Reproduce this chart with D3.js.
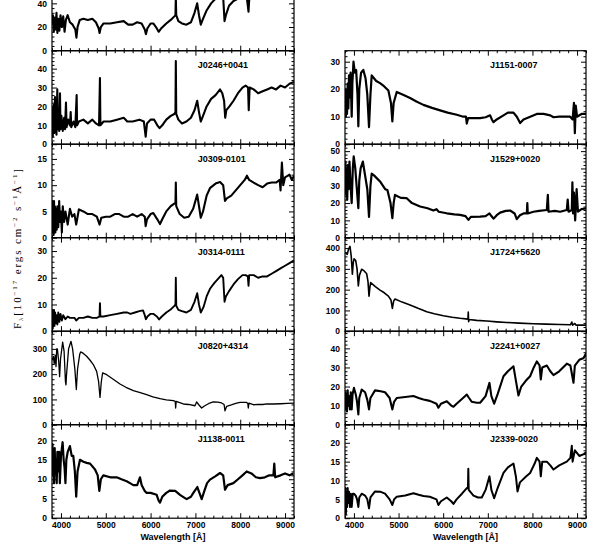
<!DOCTYPE html>
<html>
<head>
<meta charset="utf-8">
<script src="https://cdn.jsdelivr.net/npm/d3@7"></script>
<style>
  body { margin: 0; background: #fff; }
  svg { display: block; }
  .tick text { font-family: "Liberation Sans", Arial, sans-serif; font-size: 8.5px; font-weight: bold; fill: #000; }
  .tick line { stroke: #000; stroke-width: 1; }
</style>
</head>
<body>
<script>
// wavelength ticks (Angstrom)
const xMajor = [4000, 5000, 6000, 7000, 8000, 9000];
const xDomain = [3800, 9200];

// top panel of the left column (cut off by the frame)
const specTop = [[3800,22],[3820,30],[3840,16],[3860,28],[3880,18],[3900,32],[3920,15],[3945,27],[3965,17],[3990,30],[4020,20],[4050,29],[4080,16],[4110,26],[4150,30],[4200,24],[4260,22],[4320,18],[4345,11],[4370,20],[4420,26],[4500,27],[4600,26],[4700,27],[4780,24],[4840,19],[4862,15],[4890,20],[4950,23],[5100,23],[5250,24],[5400,25],[5500,22],[5600,22],[5700,24],[5800,23],[5870,18],[5895,14],[5930,19],[6000,23],[6060,23],[6120,20],[6180,16],[6240,19],[6350,23],[6450,26],[6530,29],[6555,30],[6563,45],[6572,30],[6620,25],[6700,23],[6800,22],[6900,24],[6980,32],[7040,40],[7080,30],[7120,22],[7160,26],[7250,34],[7350,40],[7450,44],[7550,48],[7620,45],[7650,25],[7680,30],[7750,38],[7850,42],[7950,44],[8050,46],[8150,44],[8185,33],[8200,43],[8300,46],[8450,45],[8550,44],[8700,48],[8900,50],[9200,52]];

const j0246 = [[3800,10],[3810,18],[3818,4],[3826,20],[3835,8],[3845,21],[3852,6],[3867,25],[3875,9],[3890,20],[3900,5],[3918,29],[3930,8],[3945,16],[3960,7],[3978,27],[3990,8],[4010,15],[4040,7],[4070,14],[4090,8],[4112,22],[4125,9],[4160,13],[4200,10],[4217,17],[4230,9],[4280,12],[4320,9],[4350,26],[4360,10],[4400,12],[4500,13],[4600,11],[4700,13],[4780,11],[4850,10],[4870,35],[4880,10],[4950,12],[5100,12],[5250,13],[5400,14],[5480,12],[5600,12],[5750,13],[5850,12],[5890,4],[5920,11],[6000,13],[6080,13],[6150,10],[6200,8.5],[6260,10],[6350,13],[6450,15],[6530,16],[6555,17],[6563,44],[6572,16],[6620,13],[6700,11],[6800,12],[6900,14],[6980,18],[7040,23],[7080,17],[7120,12],[7170,15],[7250,20],[7350,24],[7450,26],[7550,29],[7600,27],[7640,23],[7665,14],[7690,18],[7760,20],[7850,23],[7950,27],[8050,30],[8120,31],[8175,30],[8190,18],[8210,30],[8300,29],[8400,27],[8500,28],[8600,29],[8700,30],[8800,29],[8900,31],[9000,30],[9100,32],[9200,33]];

const j0309 = [[3800,4],[3810,7],[3818,1],[3826,6],[3836,0.5],[3845,7],[3855,2],[3865,6],[3875,1],[3890,5.5],[3905,1.5],[3920,6],[3940,2],[3960,7],[3980,3],[4000,5],[4020,1],[4040,6],[4070,3],[4100,5],[4150,2.5],[4200,5.5],[4250,4],[4300,4.5],[4340,2.5],[4400,5.4],[4500,5],[4600,4.5],[4700,4.5],[4800,4],[4862,2.5],[4900,3.8],[5000,4],[5100,4],[5200,4.5],[5300,4.5],[5400,4],[5500,4],[5600,4.5],[5700,4],[5800,4.5],[5870,4],[5890,2.2],[5920,3.5],[6000,4.5],[6060,4.7],[6150,3.5],[6210,2.6],[6260,3.5],[6350,5],[6450,6],[6530,6.5],[6555,6.5],[6563,10.5],[6572,6],[6650,4.5],[6750,3.8],[6850,4],[6950,5.5],[7040,8.2],[7080,6],[7120,3.8],[7170,5],[7250,8],[7330,9.5],[7450,10.3],[7550,10.6],[7620,10],[7660,7],[7700,7.5],[7800,8],[7900,9],[8000,10],[8100,11],[8150,11.8],[8200,11],[8300,10.5],[8400,10],[8500,9.6],[8600,10.3],[8700,10.5],[8800,10.5],[8880,11],[8900,9],[8930,14.3],[8960,10],[9000,11.5],[9100,12],[9150,11],[9200,11.8]];

const j0314 = [[3800,5],[3810,8],[3818,1],[3826,7],[3836,2],[3845,8],[3855,2],[3870,7],[3885,3],[3900,6],[3920,2.5],[3940,7],[3965,3.5],[3990,6.5],[4020,4],[4050,6],[4100,4.5],[4150,5.5],[4200,5],[4300,5],[4340,4],[4400,5],[4500,5],[4600,5.5],[4700,5],[4800,5],[4860,5.5],[4870,10.5],[4880,5.5],[4950,5.5],[5100,6],[5250,6.5],[5400,7],[5480,7],[5550,6.5],[5650,7],[5750,7.5],[5830,7.8],[5870,6],[5895,4.5],[5930,5.5],[6000,6.5],[6060,6.5],[6140,5.5],[6190,4.4],[6250,5.5],[6350,7],[6440,8],[6530,9.5],[6555,10],[6563,20],[6572,9.5],[6620,8],[6700,7.5],[6800,7],[6900,8],[6980,11],[7040,14.2],[7080,10],[7120,7],[7180,9],[7250,13],[7330,16],[7420,18],[7500,19.5],[7580,21],[7620,20],[7650,11],[7680,13],[7750,15],[7850,17.5],[7950,19.5],[8050,21],[8120,21],[8170,20.5],[8185,17],[8200,21],[8300,21],[8400,20],[8500,20.5],[8600,20.5],[8700,21.5],[8800,22.5],[8900,23.5],[9000,24.5],[9100,25.5],[9200,26.5]];

const j0820 = [[3800,255],[3830,270],[3850,240],[3870,275],[3890,230],[3905,300],[3920,300],[3950,250],[3970,190],[3990,260],[4038,327],[4070,290],[4100,170],[4112,158],[4125,200],[4170,300],[4224,330],[4260,300],[4310,220],[4343,139],[4370,220],[4420,280],[4440,288],[4500,282],[4573,271],[4650,255],[4722,238],[4796,211],[4840,170],[4871,108],[4900,170],[4930,205],[5020,198],[5150,182],[5317,161],[5450,148],[5615,135],[5750,128],[5912,119],[6050,110],[6210,103],[6350,98],[6507,95],[6550,92],[6559,66],[6570,92],[6730,82],[6850,80],[6990,75],[7027,90],[7070,80],[7139,66],[7200,74],[7300,84],[7399,90],[7500,89],[7585,86],[7640,80],[7660,55],[7697,73],[7800,78],[7900,84],[7995,88],[8143,88],[8170,84],[8180,66],[8195,85],[8292,79],[8400,80],[8500,80],[8600,82],[8738,82],[8900,83],[9050,84],[9200,85]];

const j1138 = [[3800,15],[3810,19],[3820,11],[3830,17],[3845,9],[3860,18],[3875,12],[3890,14],[3905,9],[3920,17],[3940,12],[3960,17],[3975,9],[4000,16],[4037,19.5],[4060,15],[4080,13],[4100,9],[4120,15],[4150,17],[4200,18.5],[4240,16],[4275,16],[4310,12],[4340,5.5],[4370,12],[4424,15],[4500,14.5],[4573,14.2],[4650,14],[4760,12.5],[4820,11],[4856,7],[4890,10],[4945,11],[5100,10.5],[5243,10.5],[5350,10],[5466,9.5],[5540,9],[5615,8.5],[5700,8.5],[5763,10.5],[5800,8.5],[5870,7],[5912,6.5],[6000,6.5],[6135,6],[6180,4.5],[6210,4],[6260,5.5],[6350,6.5],[6433,7.1],[6550,7],[6656,6],[6750,5.3],[6805,4.9],[6900,5.5],[6954,6.5],[7043,8],[7090,6.5],[7140,4.9],[7200,7],[7260,9],[7326,9.9],[7450,10.8],[7549,11.6],[7620,11],[7661,7.3],[7720,8.5],[7847,9],[7950,10],[8050,11],[8144,12],[8250,11.5],[8350,10.5],[8442,10.3],[8550,10.5],[8650,11],[8740,11],[8760,14],[8780,10.5],[8900,11],[9000,11.5],[9100,11],[9186,11.5]];

const j1151 = [[3800,15],[3810,20],[3820,10],[3830,18],[3845,11],[3860,22],[3875,13],[3890,25],[3910,17],[3925,26],[3950,10],[3965,22],[3990,30],[4020,26],[4050,27],[4080,18],[4099,6.5],[4120,20],[4160,26],[4211,27],[4260,24],[4300,18],[4338,6.2],[4370,18],[4398,25],[4500,23],[4585,22.2],[4680,21],[4772,19.5],[4830,15],[4861,8.3],[4890,15],[4959,19],[5100,18],[5258,16.8],[5400,15.5],[5557,14.3],[5750,13.2],[5931,12.3],[6100,11.5],[6305,10.7],[6450,10],[6510,10],[6529,7.5],[6560,9.5],[6700,9.5],[6828,9.5],[6950,9.8],[7052,10.5],[7090,9],[7127,8],[7200,9],[7350,10.5],[7450,11.5],[7575,11.5],[7650,10],[7724,7.7],[7800,9],[7950,10],[8098,11],[8250,11],[8400,10.5],[8472,9.8],[8600,10],[8700,10],[8845,10],[8900,9],[8930,15],[8950,4],[8970,14],[9000,10],[9100,11],[9200,11]];

const j1529 = [[3800,35],[3810,44],[3820,25],[3835,40],[3850,22],[3865,42],[3880,28],[3900,44],[3925,30],[3950,20],[3975,40],[3995,47],[4030,40],[4060,30],[4099,17],[4120,33],[4150,40],[4200,44],[4250,36],[4300,28],[4338,12],[4370,30],[4398,37],[4450,36],[4585,32.5],[4700,28],[4750,27.5],[4820,20],[4861,11.3],[4890,20],[4920,24.7],[5050,23],[5183,22.8],[5300,20],[5482,18],[5650,17],[5781,15.7],[5850,16.5],[5900,15],[6080,14.1],[6250,13.5],[6379,13.2],[6500,12.5],[6566,10.3],[6620,12],[6828,12.2],[6950,12.5],[7037,14],[7080,12.5],[7127,11],[7200,13],[7276,14.5],[7400,15.5],[7500,15.7],[7600,14],[7649,10.7],[7720,13],[7800,14],[7874,14],[7885,20],[7895,14],[8023,15],[8150,15.5],[8322,16],[8345,24.7],[8360,15],[8500,15.5],[8621,15],[8770,16],[8790,22],[8810,15],[8882,16],[8895,32],[8910,14],[8930,26],[8957,10],[8990,28],[9020,15],[9100,16.5],[9203,17]];

const j1724 = [[3800,380],[3850,370],[3880,395],[3912,408],[3940,360],[3965,274],[3985,330],[4003,348],[4040,340],[4070,300],[4099,218],[4125,270],[4173,298],[4230,290],[4286,276],[4315,240],[4338,169],[4360,215],[4375,234],[4480,215],[4585,198],[4680,185],[4772,169],[4830,150],[4861,110],[4890,145],[4920,155],[5080,140],[5258,126],[5450,109],[5632,94],[5800,84],[6005,74],[6200,67],[6379,62],[6555,58],[6562,92],[6570,46],[6580,56],[6750,52],[6977,49],[7200,45],[7425,42],[7700,39],[8023,36],[8300,34],[8621,32],[8850,31],[8882,44],[8900,29],[8950,37],[8980,29],[9100,30],[9200,29]];

const j2241 = [[3800,12],[3810,17],[3820,8],[3830,16],[3845,7],[3860,18],[3875,10],[3890,15],[3910,8],[3930,17],[3950,8],[3970,16],[4000,19.3],[4040,16],[4070,12],[4099,5.4],[4120,14],[4174,18.4],[4250,17],[4300,13],[4338,8],[4370,14],[4473,18],[4600,17.5],[4697,17],[4800,14],[4861,8],[4900,12],[4959,14],[5150,14.5],[5333,15],[5450,14],[5557,13.2],[5700,12.5],[5850,11],[5893,8.9],[5950,11],[6080,12.3],[6180,10],[6230,9.4],[6300,11],[6420,13.5],[6529,15.8],[6580,14],[6641,12],[6750,11.5],[6828,11.5],[6950,15],[7037,21.9],[7080,15],[7142,11],[7220,16],[7351,25.4],[7450,28],[7575,30.6],[7630,23],[7687,15.3],[7750,20],[7850,23],[7948,25.4],[8030,30],[8098,33.2],[8160,31],[8187,23.7],[8220,30],[8322,31],[8400,28],[8472,26],[8600,28],[8770,32],[8850,31],[8920,22],[8950,31],[9050,34],[9150,35],[9203,37.6]];

const j2339 = [[3800,5],[3810,8],[3820,1],[3830,7],[3845,3],[3860,8],[3875,4],[3890,7],[3910,3],[3930,6.5],[3950,3],[3975,6.5],[4000,6.5],[4040,6],[4070,5],[4099,3],[4120,5.5],[4174,6.5],[4250,6],[4300,5],[4338,2.6],[4370,5.5],[4473,7.1],[4600,7],[4697,6.5],[4800,5],[4861,3.5],[4900,5],[4959,5.7],[5150,6],[5333,6.6],[5450,6.2],[5557,5.9],[5700,5.7],[5850,5],[5893,3.5],[5950,4.5],[6080,5.5],[6180,4.5],[6230,3.8],[6300,5],[6420,6.5],[6529,8],[6555,8],[6563,13.1],[6572,7.5],[6679,6],[6780,5.5],[6865,5.5],[6950,7.5],[7037,11.1],[7080,7.5],[7142,5.3],[7220,8],[7351,12],[7450,13.5],[7575,14.5],[7630,11],[7665,7.1],[7720,9.5],[7850,11],[7948,12],[8050,14.5],[8098,16],[8160,15],[8187,11.1],[8220,15],[8322,15],[8400,14],[8472,12.9],[8600,14],[8770,15],[8850,16],[8882,19.2],[8900,15],[8950,18],[9050,16.5],[9150,17],[9203,17.5]];

// panel names, y ranges and y tick steps, column by column
const leftNames  = ["", "J0246+0041", "J0309-0101", "J0314-0111", "J0820+4314", "J1138-0011"];
const leftSpec   = [specTop, j0246, j0309, j0314, j0820, j1138];
const leftYMax   = [79, 49.5, 17.8, 35, 370, 24];
const leftYStep  = [20, 10, 5, 10, 100, 5];

const rightNames = ["J1151-0007", "J1529+0020", "J1724+5620", "J2241+0027", "J2339-0020"];
const rightSpec  = [j1151, j1529, j1724, j2241, j2339];
const rightYMax  = [34, 54, 450, 49, 24.8];
const rightYStep = [10, 10, 100, 10, 5];

// line weight per panel: noisy spectra look like a thick band
const leftStroke  = [2.1, 2.1, 2.1, 1.9, 1.3, 2.2];
const rightStroke = [2.2, 2.2, 1.6, 2.1, 2.0];

const width = 595, height = 543;
const panelH = 93.5, bottom = 518.2;

const svg = d3.select("body").append("svg")
  .attr("width", width)
  .attr("height", height);

const defs = svg.append("defs");
let clipId = 0;

function drawPanel(x0, x1, top, spec, name, yMax, yStep, sw, isBottom) {
  const bot = top + panelH;
  const x = d3.scaleLinear().domain(xDomain).range([x0, x1]);
  const y = d3.scaleLinear().domain([0, yMax]).range([bot, top]);

  const xMinor = d3.range(3800, 9201, 200).filter(v => v % 1000 !== 0);
  const yMajor = d3.range(0, yMax + 1e-6, yStep);
  const yMinor = d3.range(0, yMax + 1e-6, yStep / 5).filter(v => Math.abs(v / yStep - Math.round(v / yStep)) > 1e-6);

  const g = svg.append("g");

  // spectrum, clipped to the frame
  const id = "clip" + (clipId++);
  defs.append("clipPath").attr("id", id)
    .append("rect").attr("x", x0).attr("y", top).attr("width", x1 - x0).attr("height", panelH);

  const line = d3.line().x(d => x(d[0])).y(d => y(d[1]));
  g.append("path")
    .datum(spec)
    .attr("clip-path", `url(#${id})`)
    .attr("fill", "none")
    .attr("stroke", "#000")
    .attr("stroke-width", sw)
    .attr("stroke-linejoin", "round")
    .attr("d", line);

  // ticks pointing inward on all four sides
  const addAxis = (axis, tx, ty) => {
    const a = g.append("g").attr("transform", `translate(${tx},${ty})`).call(axis);
    a.select(".domain").remove();
    return a;
  };
  addAxis(d3.axisBottom(x).tickValues(xMajor).tickSizeInner(-5).tickSizeOuter(0).tickPadding(4)
    .tickFormat(isBottom ? d3.format("d") : ""), 0, bot);
  addAxis(d3.axisBottom(x).tickValues(xMinor).tickSizeInner(-2.5).tickSizeOuter(0).tickFormat(""), 0, bot);
  addAxis(d3.axisTop(x).tickValues(xMajor).tickSizeInner(-5).tickSizeOuter(0).tickFormat(""), 0, top);
  addAxis(d3.axisTop(x).tickValues(xMinor).tickSizeInner(-2.5).tickSizeOuter(0).tickFormat(""), 0, top);

  addAxis(d3.axisLeft(y).tickValues(yMajor).tickSizeInner(-5).tickSizeOuter(0).tickPadding(5)
    .tickFormat(d3.format("d")), x0, 0);
  addAxis(d3.axisLeft(y).tickValues(yMinor).tickSizeInner(-2.5).tickSizeOuter(0).tickFormat(""), x0, 0);
  addAxis(d3.axisRight(y).tickValues(yMajor).tickSizeInner(-5).tickSizeOuter(0).tickFormat(""), x1, 0);
  addAxis(d3.axisRight(y).tickValues(yMinor).tickSizeInner(-2.5).tickSizeOuter(0).tickFormat(""), x1, 0);

  g.append("rect")
    .attr("x", x0).attr("y", top)
    .attr("width", x1 - x0).attr("height", panelH)
    .attr("fill", "none")
    .attr("stroke", "#000")
    .attr("stroke-width", 1.2);

  if (name) {
    g.append("text")
      .attr("x", x(7050))
      .attr("y", top + 17.5)
      .style("font-family", "Liberation Sans, Arial, sans-serif")
      .style("font-size", "9px")
      .style("font-weight", "bold")
      .text(name);
  }

  if (isBottom) {
    g.append("text")
      .attr("x", (x0 + x1) / 2)
      .attr("y", bot + 22)
      .attr("text-anchor", "middle")
      .style("font-family", "Liberation Sans, Arial, sans-serif")
      .style("font-size", "9px")
      .style("font-weight", "bold")
      .text("Wavelength [\u00c5]");
  }
}

leftSpec.forEach((s, i) => {
  const top = bottom - (leftSpec.length - i) * panelH;
  drawPanel(52, 294, top, s, leftNames[i], leftYMax[i], leftYStep[i], leftStroke[i], i === leftSpec.length - 1);
});

rightSpec.forEach((s, i) => {
  const top = bottom - (rightSpec.length - i) * panelH;
  drawPanel(345, 586, top, s, rightNames[i], rightYMax[i], rightYStep[i], rightStroke[i], i === rightSpec.length - 1);
});

// y-axis title
const yt = svg.append("text")
  .attr("transform", "translate(21,249) rotate(-90)")
  .attr("text-anchor", "middle")
  .attr("textLength", 160)
  .attr("lengthAdjust", "spacing")
  .style("font-family", "Liberation Serif, Times New Roman, serif")
  .style("font-size", "11px");
yt.append("tspan").text("F");
yt.append("tspan").attr("dy", 2).style("font-size", "7px").text("\u03bb");
yt.append("tspan").attr("dy", -2).text("[10");
yt.append("tspan").attr("dy", -4).style("font-size", "7px").text("\u221217");
yt.append("tspan").attr("dy", 4).text(" ergs cm");
yt.append("tspan").attr("dy", -4).style("font-size", "7px").text("\u22122");
yt.append("tspan").attr("dy", 4).text(" s");
yt.append("tspan").attr("dy", -4).style("font-size", "7px").text("\u22121");
yt.append("tspan").attr("dy", 4).text("\u00c5");
yt.append("tspan").attr("dy", -4).style("font-size", "7px").text("\u22121");
yt.append("tspan").attr("dy", 4).text("]");
</script>
</body>
</html>
